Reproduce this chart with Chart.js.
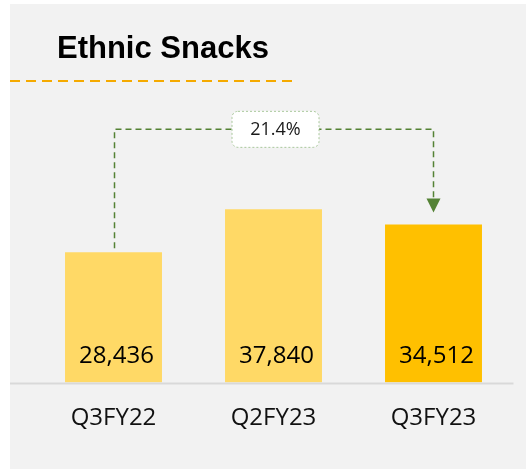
<!DOCTYPE html>
<html lang="en">
<head>
<meta charset="UTF-8">
<title>Ethnic Snacks</title>
<script src="https://cdn.jsdelivr.net/npm/chart.js"></script>
<style>
    body { margin: 0; background: #ffffff; }
    .panel {
        position: absolute;
        left: 10px;
        top: 4px;
        width: 516px;
        height: 465px;
        background: #f2f2f2;
    }
</style>
</head>
<body>
<div class="panel"><canvas id="snacksChart" width="516" height="465"></canvas></div>
<script>
    const chartTitle = 'Ethnic Snacks';
    const quarters = ['Q3FY22', 'Q2FY23', 'Q3FY23'];
    const volumes = [28436, 37840, 34512];
    const barColors = ['#FFD966', '#FFD966', '#FFC000'];
    const growthLabel = '21.4%';

    Chart.defaults.font.family = "'Open Sans', sans-serif";
    Chart.defaults.color = '#111111';

    // title, rules, value labels and the growth arrow
    const decorations = {
        id: 'decorations',
        afterDatasetsDraw(chart) {
            const { ctx, scales: { x, y } } = chart;
            const bars = chart.getDatasetMeta(0).data;
            const base = y.getPixelForValue(0);
            ctx.save();

            ctx.fillStyle = '#000000';
            ctx.font = "bold 31px 'Liberation Sans', sans-serif";
            ctx.textAlign = 'left';
            ctx.textBaseline = 'alphabetic';
            ctx.fillText(chartTitle, 47, 54);

            ctx.strokeStyle = '#F5AA00';
            ctx.lineWidth = 2;
            ctx.setLineDash([10, 6]);
            ctx.beginPath();
            ctx.moveTo(0, 77);
            ctx.lineTo(286, 77);
            ctx.stroke();

            ctx.setLineDash([]);
            ctx.strokeStyle = '#d9d9d9';
            ctx.beginPath();
            ctx.moveTo(0, base + 1);
            ctx.lineTo(x.right, base + 1);
            ctx.stroke();

            ctx.fillStyle = '#000000';
            ctx.font = "24px 'Open Sans', sans-serif";
            ctx.textAlign = 'center';
            ctx.textBaseline = 'middle';
            bars.forEach((bar, i) => {
                ctx.fillText(volumes[i].toLocaleString('en-US'), bar.x + 3, base - 26);
            });

            const from = bars[0];
            const to = bars[2];
            const lineY = y.getPixelForValue(Math.max(...volumes)) - 80;
            const tip = to.y - 12;
            ctx.strokeStyle = '#548235';
            ctx.lineWidth = 1.5;
            ctx.setLineDash([6, 4]);
            ctx.beginPath();
            ctx.moveTo(from.x + 1, from.y - 4);
            ctx.lineTo(from.x + 1, lineY);
            ctx.lineTo(to.x, lineY);
            ctx.lineTo(to.x, tip - 13);
            ctx.stroke();
            ctx.setLineDash([]);
            ctx.fillStyle = '#548235';
            ctx.beginPath();
            ctx.moveTo(to.x - 7, tip - 14);
            ctx.lineTo(to.x + 7, tip - 14);
            ctx.lineTo(to.x, tip);
            ctx.closePath();
            ctx.fill();

            const cx = (from.x + to.x) / 2 + 2;
            ctx.fillStyle = '#ffffff';
            ctx.strokeStyle = '#a9c89b';
            ctx.lineWidth = 1;
            ctx.setLineDash([2, 2]);
            ctx.beginPath();
            ctx.roundRect(cx - 43.5, lineY - 18, 87, 36, 6);
            ctx.fill();
            ctx.stroke();
            ctx.setLineDash([]);
            ctx.fillStyle = '#1a1a1a';
            ctx.font = "18px 'Open Sans', sans-serif";
            ctx.fillText(growthLabel, cx, lineY + 1);

            ctx.restore();
        }
    };

    new Chart(document.getElementById('snacksChart'), {
        type: 'bar',
        data: {
            labels: quarters,
            datasets: [{
                data: volumes,
                backgroundColor: barColors,
                categoryPercentage: 1,
                barPercentage: 0.606
            }]
        },
        options: {
            responsive: false,
            animation: false,
            layout: { padding: { left: 23.5, right: 12.5, top: 104, bottom: 14.6 } },
            plugins: {
                legend: { display: false },
                tooltip: { enabled: false }
            },
            scales: {
                x: {
                    grid: { display: false, drawTicks: false },
                    border: { display: false },
                    ticks: { padding: 21.6, font: { size: 24 }, color: '#111111' }
                },
                y: {
                    display: false,
                    min: 0,
                    max: 60000
                }
            }
        },
        plugins: [decorations]
    });
</script>
</body>
</html>
